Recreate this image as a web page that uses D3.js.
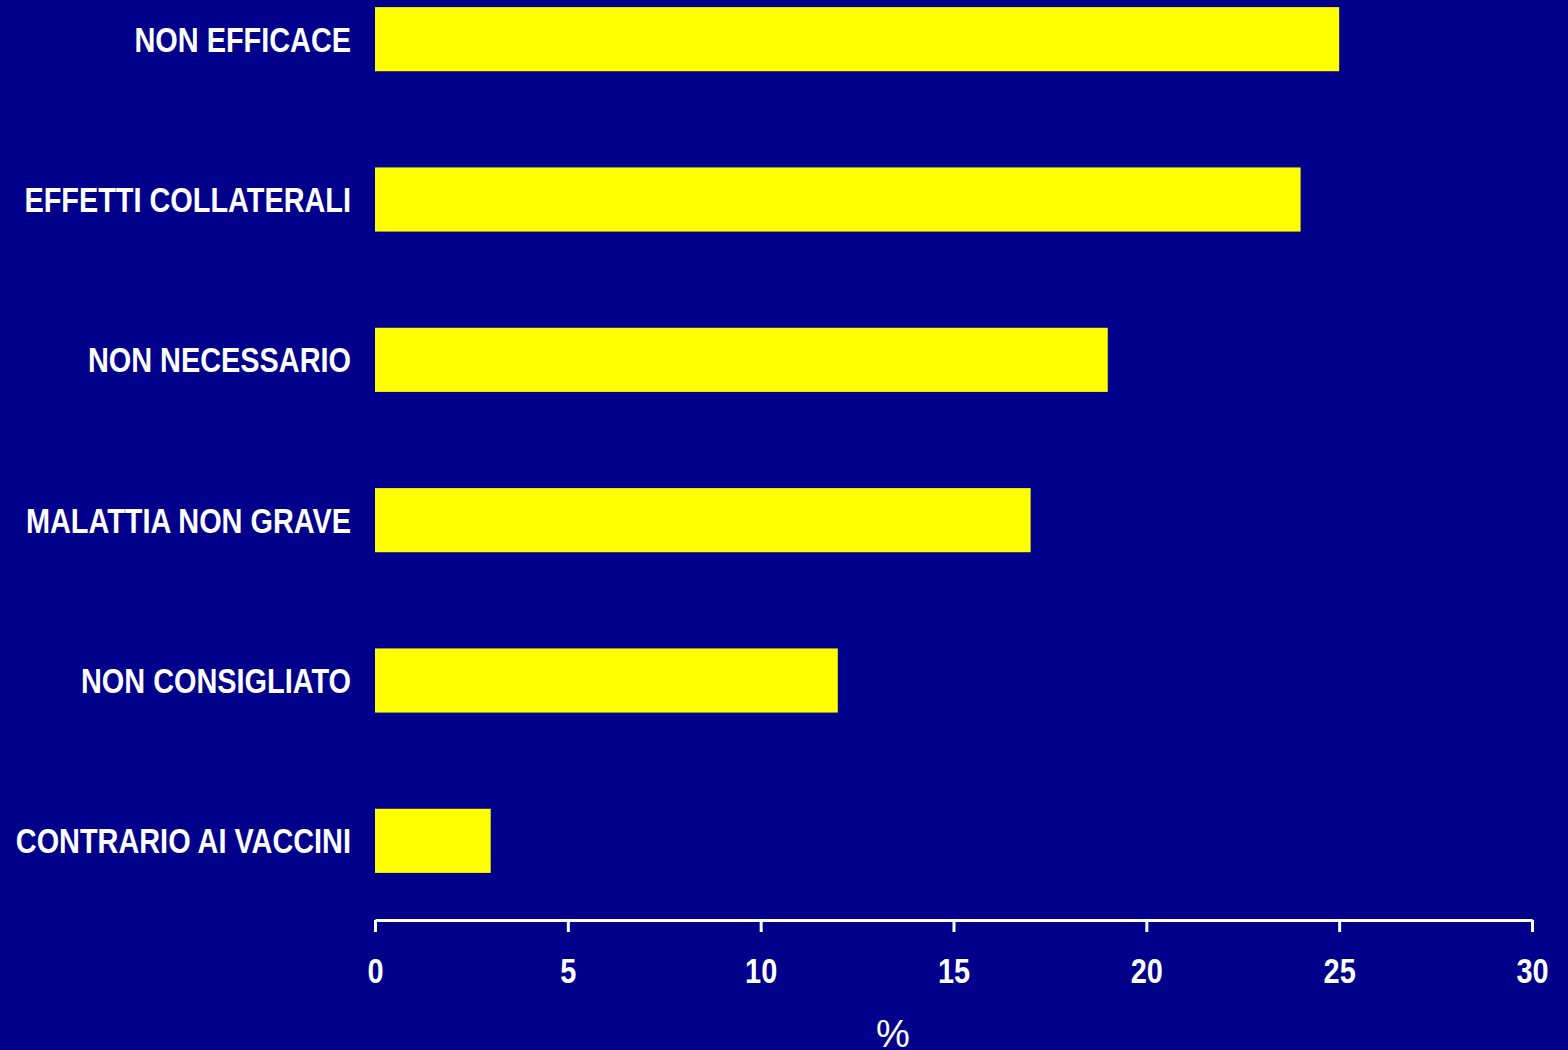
<!DOCTYPE html>
<html>
<head>
<meta charset="utf-8">
<script src="https://cdn.jsdelivr.net/npm/d3@7"></script>
<style>
  html, body { margin: 0; padding: 0; background: #00008B; }
  svg { display: block; }
</style>
</head>
<body>
<svg id="chart" width="1568" height="1050"></svg>
<script>
const categories = ["NON EFFICACE", "EFFETTI COLLATERALI", "NON NECESSARIO", "MALATTIA NON GRAVE", "NON CONSIGLIATO", "CONTRARIO AI VACCINI"];
const values = [25, 24, 19, 17, 12, 3];
const tickValues = [0, 5, 10, 15, 20, 25, 30];
const axisTitle = "%";

const W = 1568, H = 1050;
const svg = d3.select("#chart");
svg.append("rect").attr("width", W).attr("height", H).attr("fill", "#00008B");

const x = d3.scaleLinear().domain([0, 30]).range([375, 1532]);
const y = d3.scaleBand().domain(categories).range([-41, 921]).paddingInner(0.6).paddingOuter(0.3);

const labelFont = "'Liberation Sans', Arial, sans-serif";
const narrow = 0.825;

svg.append("g").selectAll("rect").data(categories).join("rect")
  .attr("x", x(0))
  .attr("y", d => y(d))
  .attr("width", (d, i) => x(values[i]) - x(0))
  .attr("height", y.bandwidth())
  .attr("fill", "#FFFF00");

svg.append("g").selectAll("text").data(categories).join("text")
  .attr("transform", d => `translate(351,${y(d) + y.bandwidth() / 2}) scale(${narrow},1)`)
  .attr("dy", "0.36em")
  .attr("text-anchor", "end")
  .attr("fill", "#FFFFFF")
  .attr("font-family", labelFont)
  .attr("font-weight", "bold")
  .attr("font-size", 35)
  .text(d => d);

const axis = d3.axisBottom(x).tickValues(tickValues).tickSize(12).tickSizeOuter(0).tickPadding(26);
const gx = svg.append("g").attr("transform", "translate(0,920)").call(axis);
gx.select(".domain").attr("stroke", "#FFFFFF").attr("stroke-width", 3);
gx.selectAll(".tick line").attr("stroke", "#FFFFFF").attr("stroke-width", 3);
gx.selectAll(".tick text")
  .attr("fill", "#FFFFFF")
  .attr("font-family", labelFont)
  .attr("font-weight", "bold")
  .attr("font-size", 35)
  .attr("y", null)
  .attr("dy", null)
  .attr("transform", `translate(0,63) scale(${narrow},1)`);

svg.append("text")
  .attr("x", 893)
  .attr("y", 1047)
  .attr("text-anchor", "middle")
  .attr("fill", "#FFFFFF")
  .attr("font-family", "'Liberation Sans', Arial, sans-serif")
  .attr("font-size", 38)
  .text(axisTitle);
</script>
</body>
</html>
